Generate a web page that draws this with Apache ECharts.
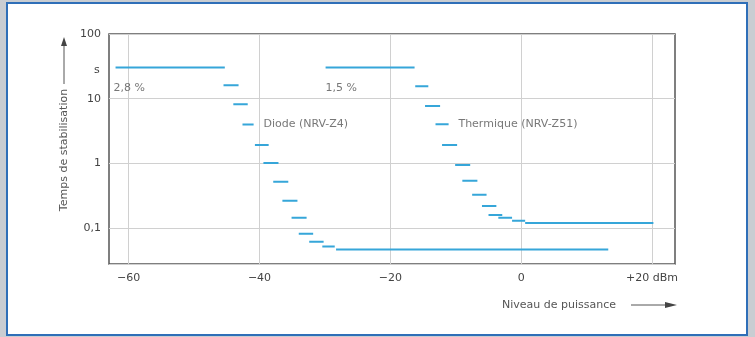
<!DOCTYPE html>
<html>
<head>
<meta charset="utf-8">
<script src="https://cdn.jsdelivr.net/npm/echarts@6/dist/echarts.min.js"></script>
<style>
html,body{margin:0;padding:0;background:#c9cdd2;}
#c{width:755px;height:337px;}
</style>
</head>
<body>
<div id="c"></div>
<script>
// ---- data ----
const xTicks = [-60, -40, -20, 0, 20];
const xTickLabels = ['\u221260', '\u221240', '\u221220', '0', '+20 dBm'];
const yTickValues = [0.1, 1, 10, 100];
const yTickLabels = ['0,1', '1', '10', '100'];

// Diode (NRV-Z4): each step = [start dBm, end dBm, time s]
const diodeStart = [-62.0, -45.5, -44.0, -42.6, -40.7, -39.4, -37.9, -36.5, -35.1, -34.0, -32.4, -30.4, -28.3];
const diodeEnd   = [-45.3, -43.2, -41.8, -40.9, -38.6, -37.1, -35.6, -34.2, -32.8, -31.8, -30.2, -28.5, 13.3];
const diodeTime  = [30.5, 16.1, 8.2, 4.0, 1.93, 1.02, 0.52, 0.265, 0.145, 0.082, 0.062, 0.052, 0.047];

// Thermique (NRV-Z51)
const thermStart = [-29.9, -16.2, -14.7, -13.1, -12.1, -10.1, -9.0, -7.5, -6.0, -5.0, -3.5, -1.4, 0.6];
const thermEnd   = [-16.3, -14.2, -12.4, -11.1, -9.8, -7.8, -6.7, -5.3, -3.8, -2.9, -1.4, 0.6, 20.2];
const thermTime  = [30.5, 15.6, 7.7, 4.05, 1.93, 0.95, 0.54, 0.33, 0.22, 0.16, 0.145, 0.13, 0.12];

// annotations: [dBm, s, text]
const noteX    = [-62.3, -29.9, -39.4, -9.6];
const noteY    = [14.5, 14.5, 4.0, 4.0];
const noteText = ['2,8 %', '1,5 %', 'Diode (NRV-Z4)', 'Thermique (NRV-Z51)'];

function steps(s, e, t) {
  const out = [];
  for (let i = 0; i < s.length; i++) {
    out.push([s[i], t[i]], [e[i], t[i]], [e[i], '-']);
  }
  return out;
}

const FONT = 'DejaVu Sans';
const LINE = '#36a6d9';
const chart = echarts.init(document.getElementById('c'), null, {renderer: 'canvas'});

chart.setOption({
  animation: false,
  backgroundColor: 'transparent',
  textStyle: {fontFamily: FONT},
  grid: {left: 109, top: 34, right: 80, bottom: 73, show: true, borderColor: '#555', borderWidth: 1.5, backgroundColor: 'transparent'},
  xAxis: {
    type: 'value', min: -63, max: 23.5,
    axisLine: {show: false},
    axisTick: {show: false, customValues: xTicks},
    axisLabel: {
      customValues: xTicks, margin: 9, color: '#444', fontSize: 11, fontFamily: FONT,
      formatter: v => xTickLabels[xTicks.indexOf(Math.round(v))] || ''
    },
    splitLine: {show: true, lineStyle: {color: '#d0d0d0', width: 1}}
  },
  yAxis: {
    type: 'log', logBase: 10, min: 0.028, max: 100,
    axisLine: {show: false},
    axisTick: {show: false},
    axisLabel: {
      margin: 8, color: '#444', fontSize: 11, fontFamily: FONT, showMinLabel: false,
      padding: [6, 0, 0, 0],
      formatter: v => {
        for (let i = 0; i < yTickValues.length; i++) {
          if (Math.abs(Math.log10(v) - Math.log10(yTickValues[i])) < 1e-6) return yTickLabels[i];
        }
        return '';
      }
    },
    splitLine: {show: true, lineStyle: {color: '#d0d0d0', width: 1}}
  },
  series: [
    {
      type: 'line', name: 'Diode (NRV-Z4)', data: steps(diodeStart, diodeEnd, diodeTime),
      showSymbol: false, connectNulls: false, lineStyle: {color: LINE, width: 2}, z: 5
    },
    {
      type: 'line', name: 'Thermique (NRV-Z51)', data: steps(thermStart, thermEnd, thermTime),
      showSymbol: false, connectNulls: false, lineStyle: {color: LINE, width: 2}, z: 5
    },
    {
      type: 'scatter', data: noteX.map((x, i) => [x, noteY[i], noteText[i]]),
      symbolSize: 0, silent: true,
      label: {
        show: true, position: 'right', distance: 0, color: '#555', fontSize: 11, fontFamily: FONT,
        formatter: p => p.data[2]
      }
    }
  ],
  graphic: [
    {type: 'rect', z: -100, shape: {x: 7, y: 3, width: 740, height: 332}, style: {fill: '#ffffff', stroke: '#2f6fb8', lineWidth: 2}},
    {type: 'text', x: 64, y: 150, rotation: Math.PI / 2, style: {text: 'Temps de stabilisation', fill: '#555', font: '11px "DejaVu Sans"', align: 'center', verticalAlign: 'middle'}},
    {type: 'line', shape: {x1: 64, y1: 84, x2: 64, y2: 44}, style: {stroke: '#555', lineWidth: 1}},
    {type: 'polygon', shape: {points: [[61, 46], [67, 46], [64, 37]]}, style: {fill: '#444'}},
    {type: 'text', x: 502, y: 305, style: {text: 'Niveau de puissance', fill: '#555', font: '11px "DejaVu Sans"', align: 'left', verticalAlign: 'middle'}},
    {type: 'line', shape: {x1: 631, y1: 305, x2: 668, y2: 305}, style: {stroke: '#555', lineWidth: 1}},
    {type: 'polygon', shape: {points: [[665, 302], [665, 308], [677, 305]]}, style: {fill: '#444'}},
    {type: 'text', x: 94, y: 70, style: {text: 's', fill: '#444', font: '11px "DejaVu Sans"', align: 'left', verticalAlign: 'middle'}}
  ]
});
</script>
</body>
</html>
